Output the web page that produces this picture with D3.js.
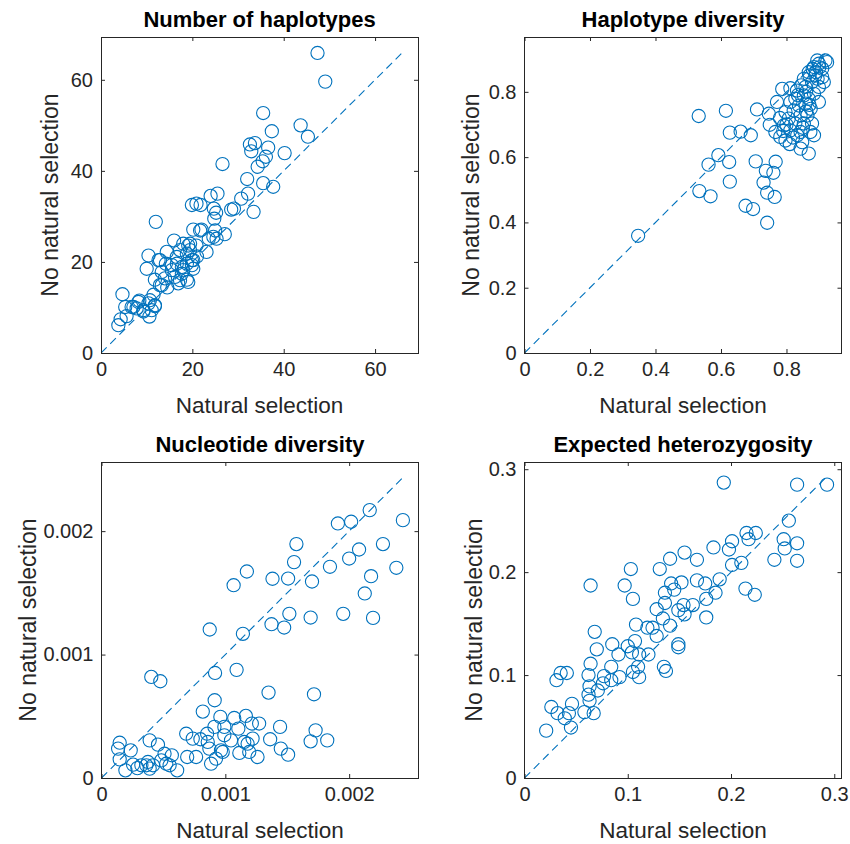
<!DOCTYPE html>
<html>
<head>
<meta charset="utf-8">
<script src="https://cdn.jsdelivr.net/npm/d3@7"></script>
<style>
  html, body { margin: 0; padding: 0; background: #fff; }
  svg { display: block; }
  text { font-family: "Liberation Sans", Arial, Helvetica, sans-serif; fill: #262626; }
</style>
</head>
<body>
<svg id="chart" width="850" height="844"></svg>
<script>
// ---------------- DATA ----------------
const titles = ["Number of haplotypes", "Haplotype diversity", "Nucleotide diversity", "Expected heterozygosity"];
const xLabel = "Natural selection";
const yLabel = "No natural selection";

// [natural selection, no natural selection]
const haplotypeNumber = [
  [47.4,65.9],[49.1,59.6],[35.5,52.7],[37.4,48.7],[43.7,50.0],[45.3,47.5],[32.6,45.8],[33.7,46.1],
  [32.9,44.3],[36.6,45.1],[40.2,43.9],[36.1,43.1],[35.4,42.1],[34.3,40.9],[26.6,41.5],[32.0,38.2],
  [35.5,37.3],[37.7,36.5],[32.2,35.0],[30.7,33.9],[33.4,31.0],[29.1,31.7],[28.5,31.5],[25.5,35.0],
  [24.0,34.5],[19.9,32.5],[20.9,32.8],[21.8,32.5],[24.7,31.7],[25.2,30.8],[24.8,29.5],[20.2,27.1],
  [22.0,27.1],[25.0,26.9],[27.1,26.1],[24.6,25.5],[23.6,25.1],[12.0,28.8],[16.0,24.7],[18.0,24.0],
  [19.5,24.0],[20.9,23.6],[23.1,22.2],[10.4,21.4],[12.9,20.4],[14.2,19.6],[17.3,22.6],[18.8,21.8],
  [19.9,20.4],[16.6,19.6],[18.8,19.6],[10.0,18.5],[13.3,17.8],[15.5,18.2],[18.0,18.2],[20.2,18.5],
  [11.8,16.1],[14.0,16.4],[16.2,16.7],[17.3,16.0],[18.8,16.1],[13.3,14.9],[14.5,14.4],[16.9,15.3],
  [4.7,12.9],[11.5,12.8],[8.4,11.5],[5.3,10.1],[7.1,10.1],[7.8,9.8],[10.4,10.9],[11.8,10.3],
  [9.3,9.1],[10.6,8.0],[5.6,8.1],[4.3,7.4],[3.8,6.1],[21.7,26.9],[25.3,25.1],[19.1,23.6],
  [19.5,22.6],[14.4,22.2],[12.6,20.4],[16.6,21.1],[19.9,19.3],[15.5,19.3],[17.7,18.9],[12.9,14.9],
  [19.1,15.6],[11.8,10.5],[9.3,9.4],[11.1,9.4],[6.7,10.1],[8.2,11.2],[10.7,11.6],[20.2,20.4],
  [21.0,21.2],[17.7,17.4]
];

const haplotypeDiversity = [
  [0.347,0.359],[0.532,0.726],[0.615,0.742],[0.710,0.746],[0.627,0.675],[0.660,0.678],[0.691,0.667],
  [0.592,0.606],[0.562,0.577],[0.625,0.585],[0.627,0.525],[0.534,0.496],[0.568,0.480],[0.706,0.587],
  [0.737,0.558],[0.767,0.586],[0.760,0.552],[0.730,0.522],[0.741,0.491],[0.764,0.478],[0.675,0.451],
  [0.698,0.441],[0.741,0.399],
  [0.746,0.733],[0.749,0.699],[0.771,0.769],[0.787,0.809],[0.812,0.811],[0.832,0.804],[0.766,0.677],
  [0.781,0.662],[0.797,0.651],[0.792,0.697],[0.807,0.718],[0.812,0.682],[0.797,0.738],[0.812,0.769],
  [0.827,0.779],[0.838,0.758],[0.853,0.789],[0.858,0.764],[0.868,0.779],[0.843,0.728],[0.864,0.728],
  [0.827,0.703],[0.853,0.703],[0.878,0.703],[0.843,0.677],[0.873,0.677],[0.884,0.667],[0.848,0.646],
  [0.843,0.626],[0.868,0.611],[0.833,0.667],[0.822,0.743],[0.853,0.840],[0.868,0.860],[0.884,0.876],
  [0.899,0.886],[0.919,0.896],[0.909,0.871],[0.888,0.850],[0.909,0.845],[0.878,0.830],[0.858,0.815],
  [0.899,0.815],[0.914,0.830],[0.924,0.891],[0.894,0.896],[0.884,0.794],[0.899,0.769],[0.874,0.748],
  [0.880,0.870],[0.870,0.850],[0.890,0.860],[0.900,0.875],[0.860,0.800],[0.845,0.820],[0.835,0.790],
  [0.800,0.700],[0.790,0.680],[0.780,0.720],[0.860,0.740],[0.870,0.760],[0.850,0.690],[0.820,0.660],
  [0.810,0.640],[0.895,0.840]
];

const nucleotideDiversity = [
  [0.002166,0.002170],[0.001909,0.002062],[0.002016,0.002076],[0.002434,0.002089],[0.001574,0.001895],
  [0.002273,0.001895],[0.002080,0.001851],[0.001555,0.001749],[0.002000,0.001778],[0.001845,0.001711],
  [0.002381,0.001703],[0.001174,0.001673],[0.001067,0.001562],[0.001381,0.001614],[0.001507,0.001616],
  [0.001700,0.001592],[0.002177,0.001635],[0.002126,0.001495],[0.001517,0.001330],[0.001373,0.001246],
  [0.001475,0.001219],[0.001689,0.001300],[0.001952,0.001330],[0.002193,0.001297],[0.000874,0.001203],
  [0.001142,0.001168],[0.000917,0.000851],[0.001091,0.000876],[0.000402,0.000819],[0.000475,0.000784],
  [0.001349,0.000692],[0.001716,0.000678],[0.000914,0.000630],[0.000818,0.000538],
  [0.000147,0.000286],[0.000134,0.000238],[0.000236,0.000224],[0.000147,0.000151],[0.000193,0.000062],
  [0.000255,0.000108],[0.000322,0.000103],[0.000375,0.000130],[0.000416,0.000103],[0.000389,0.000305],
  [0.000456,0.000270],[0.000509,0.000197],[0.000568,0.000184],[0.000483,0.000143],[0.000550,0.000103],
  [0.000611,0.000062],[0.000692,0.000170],[0.000764,0.000170],[0.000684,0.000359],[0.000737,0.000319],
  [0.000799,0.000314],[0.000853,0.000359],[0.000858,0.000292],[0.000912,0.000414],[0.000960,0.000495],
  [0.001072,0.000486],[0.001166,0.000503],[0.001214,0.000441],[0.001273,0.000441],[0.001105,0.000400],
  [0.000992,0.000346],[0.001046,0.000305],[0.001153,0.000292],[0.001220,0.000319],[0.001193,0.000211],
  [0.001260,0.000170],[0.001362,0.000314],[0.001448,0.000238],[0.001507,0.000189],[0.001442,0.000414],
  [0.000885,0.000116],[0.000925,0.000157],[0.000979,0.000211],[0.000871,0.000238],[0.001689,0.000297],
  [0.001729,0.000386],[0.001823,0.000305],[0.000362,0.000103],[0.000523,0.000116],[0.001113,0.000203],
  [0.001180,0.000278],[0.000965,0.000224],[0.000992,0.000414],[0.000389,0.000076],[0.000290,0.000080]
];

const expectedHeterozygosity = [
  [0.193,0.287],[0.264,0.285],[0.293,0.285],[0.256,0.250],[0.215,0.238],[0.224,0.238],[0.217,0.232],
  [0.251,0.232],[0.264,0.228],[0.252,0.223],[0.242,0.212],[0.264,0.211],[0.183,0.224],[0.198,0.222],
  [0.201,0.230],[0.201,0.207],[0.210,0.209],[0.155,0.219],[0.141,0.213],[0.167,0.212],[0.131,0.203],
  [0.103,0.203],[0.097,0.187],[0.064,0.187],[0.105,0.174],[0.142,0.189],[0.152,0.190],[0.167,0.192],
  [0.175,0.189],[0.189,0.193],[0.185,0.180],[0.214,0.184],[0.223,0.178],[0.136,0.180],[0.145,0.183],
  [0.176,0.174],[0.136,0.170],[0.154,0.168],[0.163,0.168],[0.128,0.164],[0.149,0.163],[0.155,0.159],
  [0.176,0.156],[0.134,0.155],[0.108,0.149],[0.124,0.146],[0.128,0.138],[0.141,0.148],[0.119,0.146],
  [0.068,0.142],[0.107,0.133],[0.100,0.128],[0.085,0.130],[0.070,0.125],[0.091,0.120],[0.104,0.122],
  [0.111,0.120],[0.120,0.120],[0.149,0.130],[0.149,0.127],[0.064,0.111],[0.084,0.108],[0.135,0.108],
  [0.137,0.104],[0.035,0.102],[0.041,0.102],[0.031,0.095],[0.062,0.100],[0.077,0.099],[0.084,0.095],
  [0.092,0.098],[0.105,0.103],[0.111,0.098],[0.076,0.092],[0.063,0.089],[0.071,0.085],[0.062,0.081],
  [0.063,0.075],[0.058,0.064],[0.067,0.063],[0.046,0.072],[0.026,0.069],[0.043,0.063],[0.039,0.058],
  [0.032,0.063],[0.045,0.049],[0.021,0.046],[0.110,0.108]
];

// axis upper limits and diagonal extent per panel
const axisMax = [69.4, 0.968, 0.00256, 0.307];
const diagMax = [66.1, 0.922, 0.00244, 0.293];
const tickValues = [
  [0, 20, 40, 60],
  [0, 0.2, 0.4, 0.6, 0.8],
  [0, 0.001, 0.002],
  [0, 0.1, 0.2, 0.3]
];

// ---------------- LAYOUT ----------------
const datasets = [haplotypeNumber, haplotypeDiversity, nucleotideDiversity, expectedHeterozygosity];
const panelPos = [
  {x: 101, y: 37, ylab: -43},
  {x: 524.5, y: 37, ylab: -46},
  {x: 101.5, y: 462, ylab: -66},
  {x: 524.5, y: 462, ylab: -43}
];
const PW = 317, PH = 316;
const blue = "#0072BD";
const axisColor = "#262626";

const svg = d3.select("#chart");

datasets.forEach((data, i) => {
  const pos = panelPos[i];
  const g = svg.append("g").attr("transform", `translate(${pos.x},${pos.y})`);
  const x = d3.scaleLinear().domain([0, axisMax[i]]).range([0, PW]);
  const y = d3.scaleLinear().domain([0, axisMax[i]]).range([PH, 0]);
  const fmt = d => String(d);

  const clipId = "clip" + i;
  g.append("clipPath").attr("id", clipId)
    .append("rect").attr("width", PW).attr("height", PH);

  const plot = g.append("g").attr("clip-path", `url(#${clipId})`);

  // diagonal
  plot.append("line")
    .attr("x1", x(0)).attr("y1", y(0))
    .attr("x2", x(diagMax[i])).attr("y2", y(diagMax[i]))
    .attr("stroke", blue).attr("stroke-width", 1.1)
    .attr("stroke-dasharray", "8,5");

  // points
  plot.selectAll("circle").data(data).enter().append("circle")
    .attr("cx", d => x(d[0])).attr("cy", d => y(d[1]))
    .attr("r", 6.6)
    .attr("fill", "none").attr("stroke", blue).attr("stroke-width", 1.1);

  // axes
  const tv = tickValues[i];
  const bottom = g.append("g").attr("transform", `translate(0,${PH})`)
    .call(d3.axisBottom(x).tickValues(tv).tickFormat(fmt).tickSizeInner(-4).tickSizeOuter(0).tickPadding(9));
  const left = g.append("g")
    .call(d3.axisLeft(y).tickValues(tv).tickFormat(fmt).tickSizeInner(-4).tickSizeOuter(0).tickPadding(8));
  const top = g.append("g")
    .call(d3.axisTop(x).tickValues(tv).tickFormat("").tickSizeInner(-4).tickSizeOuter(0));
  const right = g.append("g").attr("transform", `translate(${PW},0)`)
    .call(d3.axisRight(y).tickValues(tv).tickFormat("").tickSizeInner(-4).tickSizeOuter(0));

  [bottom, left, top, right].forEach(a => {
    a.select(".domain").remove();
    a.selectAll(".tick line").attr("stroke", axisColor).attr("stroke-width", 1);
    a.selectAll(".tick text").attr("fill", axisColor)
      .style("font-family", '"Liberation Sans", Arial, sans-serif')
      .style("font-size", "20px");
  });

  g.append("rect").attr("width", PW).attr("height", PH)
    .attr("fill", "none").attr("stroke", axisColor).attr("stroke-width", 1)
    .attr("shape-rendering", "crispEdges");

  // title
  g.append("text")
    .attr("x", PW / 2).attr("y", -10)
    .attr("text-anchor", "middle")
    .style("font-size", "22px").style("font-weight", "bold")
    .style("fill", "#000")
    .text(titles[i]);

  // x label
  g.append("text")
    .attr("x", PW / 2).attr("y", PH + 60)
    .attr("text-anchor", "middle")
    .style("font-size", "22.5px")
    .text(xLabel);

  // y label
  g.append("text")
    .attr("transform", `translate(${pos.ylab},${PH / 2}) rotate(-90)`)
    .attr("text-anchor", "middle")
    .style("font-size", "23px")
    .text(yLabel);
});
</script>
</body>
</html>
